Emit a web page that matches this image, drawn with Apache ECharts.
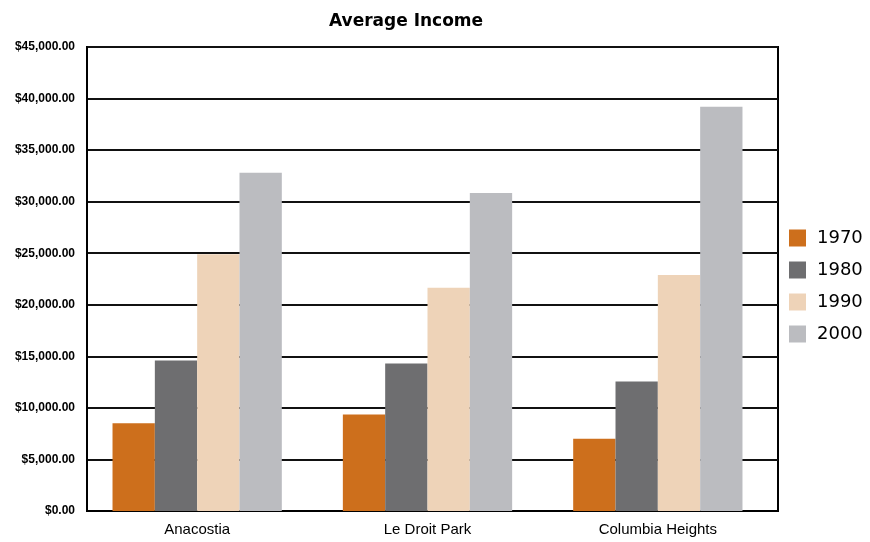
<!DOCTYPE html>
<html><head><meta charset="utf-8">
<script src="https://cdn.jsdelivr.net/npm/echarts@6/dist/echarts.min.js"></script>
<style>html,body{margin:0;padding:0;background:#fff}#c{width:870px;height:542px}</style>
</head><body><div id="c"></div>
<script>
const categories = ['Anacostia', 'Le Droit Park', 'Columbia Heights'];
const seriesNames = ['1970', '1980', '1990', '2000'];
const v1970 = [8500, 9350, 7000];
const v1980 = [14600, 14300, 12550];
const v1990 = [24900, 21650, 22900];
const v2000 = [32800, 30850, 39200];
const colors = ['#CD6F1C', '#6E6E70', '#EED3B8', '#BBBCC0'];
const values = [v1970, v1980, v1990, v2000];
const yMin = 0, yMax = 45000, yStep = 5000;

const chart = echarts.init(document.getElementById('c'));
chart.setOption({
  animation: false,
  title: {
    text: 'Average Income', left: 324, top: 8,
    textStyle: { fontFamily: 'DejaVu Sans', fontSize: 17, fontWeight: 'bold', color: '#000' }
  },
  legend: {
    orient: 'vertical', left: 789, top: 229, padding: 0, itemWidth: 17, itemHeight: 17, itemGap: 14,
    icon: 'rect',
    textStyle: { fontFamily: 'DejaVu Sans', fontSize: 18, lineHeight: 17, color: '#000', padding: [0,0,0,6] },
    data: seriesNames
  },
  grid: [
    { left: 87, right: 92, top: 47, bottom: 31, show: true, borderColor: '#000', borderWidth: 2 },
    { left: 82, right: 97, top: 47, bottom: 31 }
  ],
  xAxis: [{
    gridIndex: 0, type: 'category', data: categories,
    axisLine: { lineStyle: { color: '#000', width: 2 } },
    axisTick: { show: false }, axisLabel: { show: false }
  }, {
    gridIndex: 1, type: 'category', data: categories,
    axisLine: { show: false }, axisTick: { show: false },
    axisLabel: { fontFamily: 'Liberation Sans, Arial', fontSize: 15, color: '#000', margin: 11 }
  }],
  yAxis: [{
    gridIndex: 0, type: 'value', min: yMin, max: yMax, interval: yStep,
    axisLine: { show: true, lineStyle: { color: '#000', width: 2 } },
    axisTick: { show: false },
    splitLine: { lineStyle: { color: '#111', width: 2 } },
    axisLabel: {
      fontFamily: 'Liberation Sans, Arial', fontSize: 12, fontWeight: 'bold', color: '#000', margin: 12,
      formatter: v => '$' + v.toLocaleString('en-US', { minimumFractionDigits: 2, maximumFractionDigits: 2 })
    }
  }, {
    gridIndex: 1, type: 'value', min: yMin, max: yMax, interval: yStep, show: false,
    splitLine: { show: false }
  }],
  series: seriesNames.map((n, i) => ({
    name: n, type: 'bar', xAxisIndex: 1, yAxisIndex: 1, data: values[i], barGap: '0%', barCategoryGap: '26.5%',
    itemStyle: { color: colors[i] }
  }))
});
</script></body></html>
